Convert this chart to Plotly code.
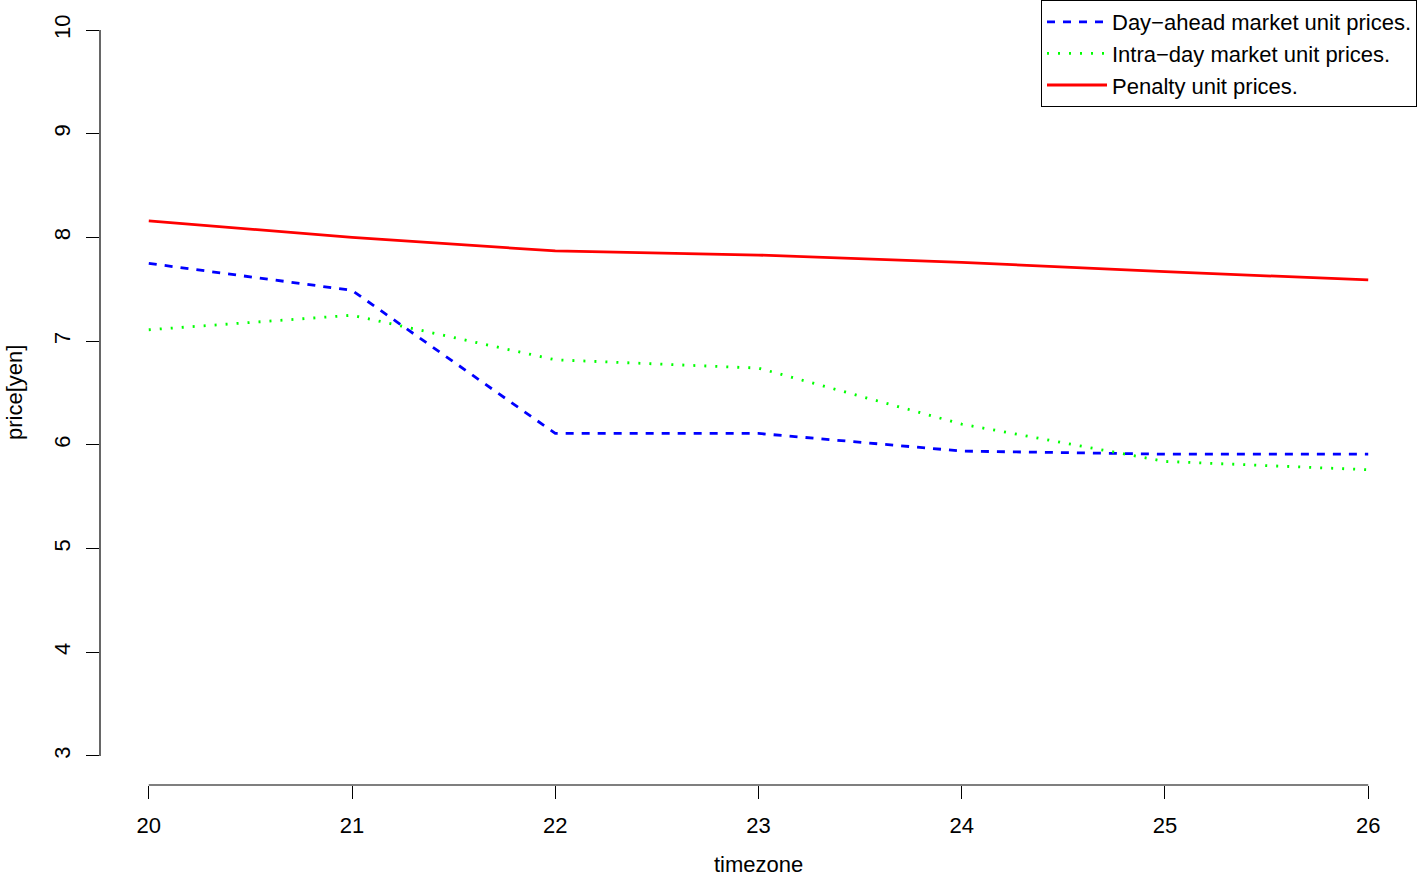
import plotly.graph_objects as go

timezone = [20, 21, 22, 23, 24, 25, 26]
day_ahead = [7.75, 7.49, 6.11, 6.11, 5.94, 5.91, 5.91]
intra_day = [7.11, 7.25, 6.82, 6.74, 6.20, 5.84, 5.76]
penalty = [8.16, 8.00, 7.87, 7.83, 7.76, 7.67, 7.59]

x_ticks = [20, 21, 22, 23, 24, 25, 26]
y_ticks = [3, 4, 5, 6, 7, 8, 9, 10]
x_title = "timezone"
y_title = "price[yen]"

FONT = "Liberation Sans, Arial, Helvetica, sans-serif"

fig = go.Figure()
fig.add_trace(go.Scatter(x=timezone, y=day_ahead, mode="lines",
                         name="Day\u2212ahead market unit prices.",
                         line=dict(color="#0000FF", width=2.8, dash="8px,8px")))
fig.add_trace(go.Scatter(x=timezone, y=intra_day, mode="lines",
                         name="Intra\u2212day market unit prices.",
                         line=dict(color="#00FF00", width=2.8, dash="2px,9px")))
fig.add_trace(go.Scatter(x=timezone, y=penalty, mode="lines",
                         name="Penalty unit prices.",
                         line=dict(color="#FF0000", width=2.8)))

# R-style axis lines spanning only the tick range
fig.add_shape(type="line", xref="paper", yref="y", x0=0, x1=0,
              y0=min(y_ticks), y1=max(y_ticks),
              line=dict(color="black", width=1.2))
fig.add_shape(type="line", xref="x", yref="paper",
              x0=min(x_ticks), x1=max(x_ticks), y0=0, y1=0,
              line=dict(color="black", width=1.2))

# axis titles placed R-style in the margins
fig.add_annotation(text=x_title, xref="paper", yref="paper", x=0.5, y=0,
                   yshift=-79, showarrow=False, yanchor="middle",
                   borderpad=0, font=dict(size=22))
fig.add_annotation(text=y_title, xref="paper", yref="paper", x=0, y=0.5,
                   xshift=-86, showarrow=False, xanchor="center",
                   borderpad=0, textangle=-90, font=dict(size=22))

fig.update_layout(
    width=1418, height=878,
    margin=dict(l=100, r=1, t=1, b=93, autoexpand=False),
    paper_bgcolor="white", plot_bgcolor="white",
    font=dict(family=FONT, size=22, color="black"),
    showlegend=True,
    legend=dict(x=1, y=1.0013, xanchor="right", yanchor="top",
                bordercolor="black", borderwidth=1, bgcolor="white",
                font=dict(size=22), tracegroupgap=0, itemwidth=60),
    xaxis=dict(range=[19.76, 26.24], tickvals=x_ticks, showgrid=False,
               zeroline=False, showline=False, ticks="outside", ticklen=13,
               tickwidth=1.2, tickcolor="black", ticklabelstandoff=8,
               tickfont=dict(size=22), automargin=False),
    yaxis=dict(range=[2.72, 10.28], tickvals=y_ticks, showgrid=False,
               zeroline=False, showline=False, ticks="outside", ticklen=13,
               tickwidth=1.2, tickcolor="black", tickangle=-90,
               ticklabelstandoff=7, tickfont=dict(size=22), automargin=False),
)

fig.write_html("out.html", config={"displayModeBar": False},
               post_script="document.body.style.margin='0';document.body.style.padding='0';")
